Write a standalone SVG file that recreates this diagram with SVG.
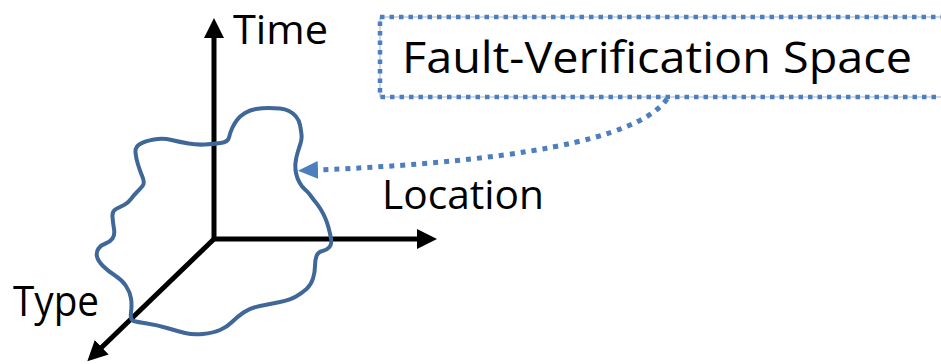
<svg xmlns="http://www.w3.org/2000/svg" width="941" height="364" viewBox="0 0 941 364">
  <style>
    .label { font-family: "Open Sans", "Liberation Sans", sans-serif; fill: #000; }
    .axis { fill: none; stroke: #000; stroke-width: 5; stroke-linejoin: miter; }
    .blob { fill: none; stroke: #3f6899; stroke-width: 4; stroke-linejoin: round; stroke-linecap: round; }
    .frame-line { fill: none; stroke: #a7b3c4; stroke-width: 1; }
    .frame-dots { fill: none; stroke: #4d7fbf; stroke-width: 4.5; stroke-dasharray: 4.5 5; }
    .link { fill: none; stroke: #4d7fbf; stroke-width: 5; stroke-dasharray: 5 6; }
  </style>
  <defs>
    <marker id="head" markerUnits="userSpaceOnUse" viewBox="0 0 20 20" markerWidth="20" markerHeight="20" refX="1" refY="10" orient="auto-start-reverse">
      <path d="M0,0 L20,10 L0,20 Z" fill="#000"/>
    </marker>
    <marker id="blue-head" markerUnits="userSpaceOnUse" viewBox="0 0 20 18" markerWidth="20" markerHeight="18" refX="1" refY="9" orient="auto">
      <path d="M0,0 L20,9 L0,18 Z" fill="#4d7fbf"/>
    </marker>
  </defs>

  <!-- coordinate axes -->
  <g id="axes">
    <path class="axis" d="M214,37 L214,239 L418,239" marker-start="url(#head)" marker-end="url(#head)"/>
    <path class="axis" d="M214,239 L101,348" stroke-width="4.5" marker-end="url(#head)"/>
  </g>

  <!-- irregular region, smoothed through midpoints -->
  <g id="region">
    <path class="blob" d="M220.5,143
      Q228,142 229,137.5 Q230,133 232,128.5 Q234,124 237,120 Q240,116 245,113
      Q250,110 256,109 Q262,108 268.5,108 Q275,108 280,108.5 Q285,109 289,111
      Q293,113 296,116.5 Q299,120 300,125 Q301,130 301.5,134.5 Q302,139 300.5,143.5
      Q299,148 297.5,153 Q296,158 295.5,163 Q295,168 296,173 Q297,178 299.5,182.5
      Q302,187 305,189.5 Q308,192 310.5,195.5 Q313,199 315.5,202 Q318,205 320.5,209
      Q323,213 325,217.5 Q327,222 328.5,227.5 Q330,233 331,238.5 Q332,244 329.5,247
      Q327,250 322.5,251 Q318,252 316.5,256 Q315,260 315,266 Q315,272 313,278.5
      Q311,285 306.5,289 Q302,293 296,296.5 Q290,300 280,302 Q270,304 260,306
      Q250,308 243.5,312.5 Q237,317 232,322 Q227,327 220,330 Q213,333 203,334
      Q193,335 185,333 Q177,331 167,328 Q157,325 147,323.5 Q137,322 133.5,321
      Q130,320 131,312.5 Q132,305 131,298.5 Q130,292 126,286 Q122,280 115,275.5
      Q108,271 103,266 Q98,261 97,256.5 Q96,252 98.5,248.5 Q101,245 105.5,243.5
      Q110,242 112.5,238.5 Q115,235 114,229 Q113,223 112.5,217 Q112,211 116,209
      Q120,207 124,205 Q128,203 131,199 Q134,195 137,192 Q140,189 142.5,186
      Q145,183 142.5,177 Q140,171 138,164.5 Q136,158 135.5,152.5 Q135,147 140,144
      Q145,141 154,139.5 Q163,138 171.5,140 Q180,142 188.5,143.5 Q197,145 205,144.5
      Q213,144 220.5,143 Z"/>
  </g>

  <!-- axis labels -->
  <g id="label-time"><text class="label" x="233" y="44" font-size="40" textLength="95" lengthAdjust="spacingAndGlyphs">Time</text></g>
  <g id="label-location"><text class="label" x="382" y="209" font-size="41" textLength="162" lengthAdjust="spacingAndGlyphs">Location</text></g>
  <g id="label-type"><text class="label" x="13" y="316" font-size="42" textLength="86" lengthAdjust="spacingAndGlyphs">Type</text></g>

  <!-- callout box -->
  <g id="callout">
    <rect class="frame-line" x="380" y="17" width="580" height="80"/>
    <rect class="frame-dots" x="380" y="17" width="580" height="80"/>
    <text class="label" x="402" y="73" font-size="43" textLength="510" lengthAdjust="spacingAndGlyphs">Fault-Verification Space</text>
  </g>

  <!-- connector from callout to region -->
  <g id="connectors">
    <path class="link" d="M667,99 C645,130 560,160 317,170" marker-end="url(#blue-head)"/>
  </g>
</svg>
